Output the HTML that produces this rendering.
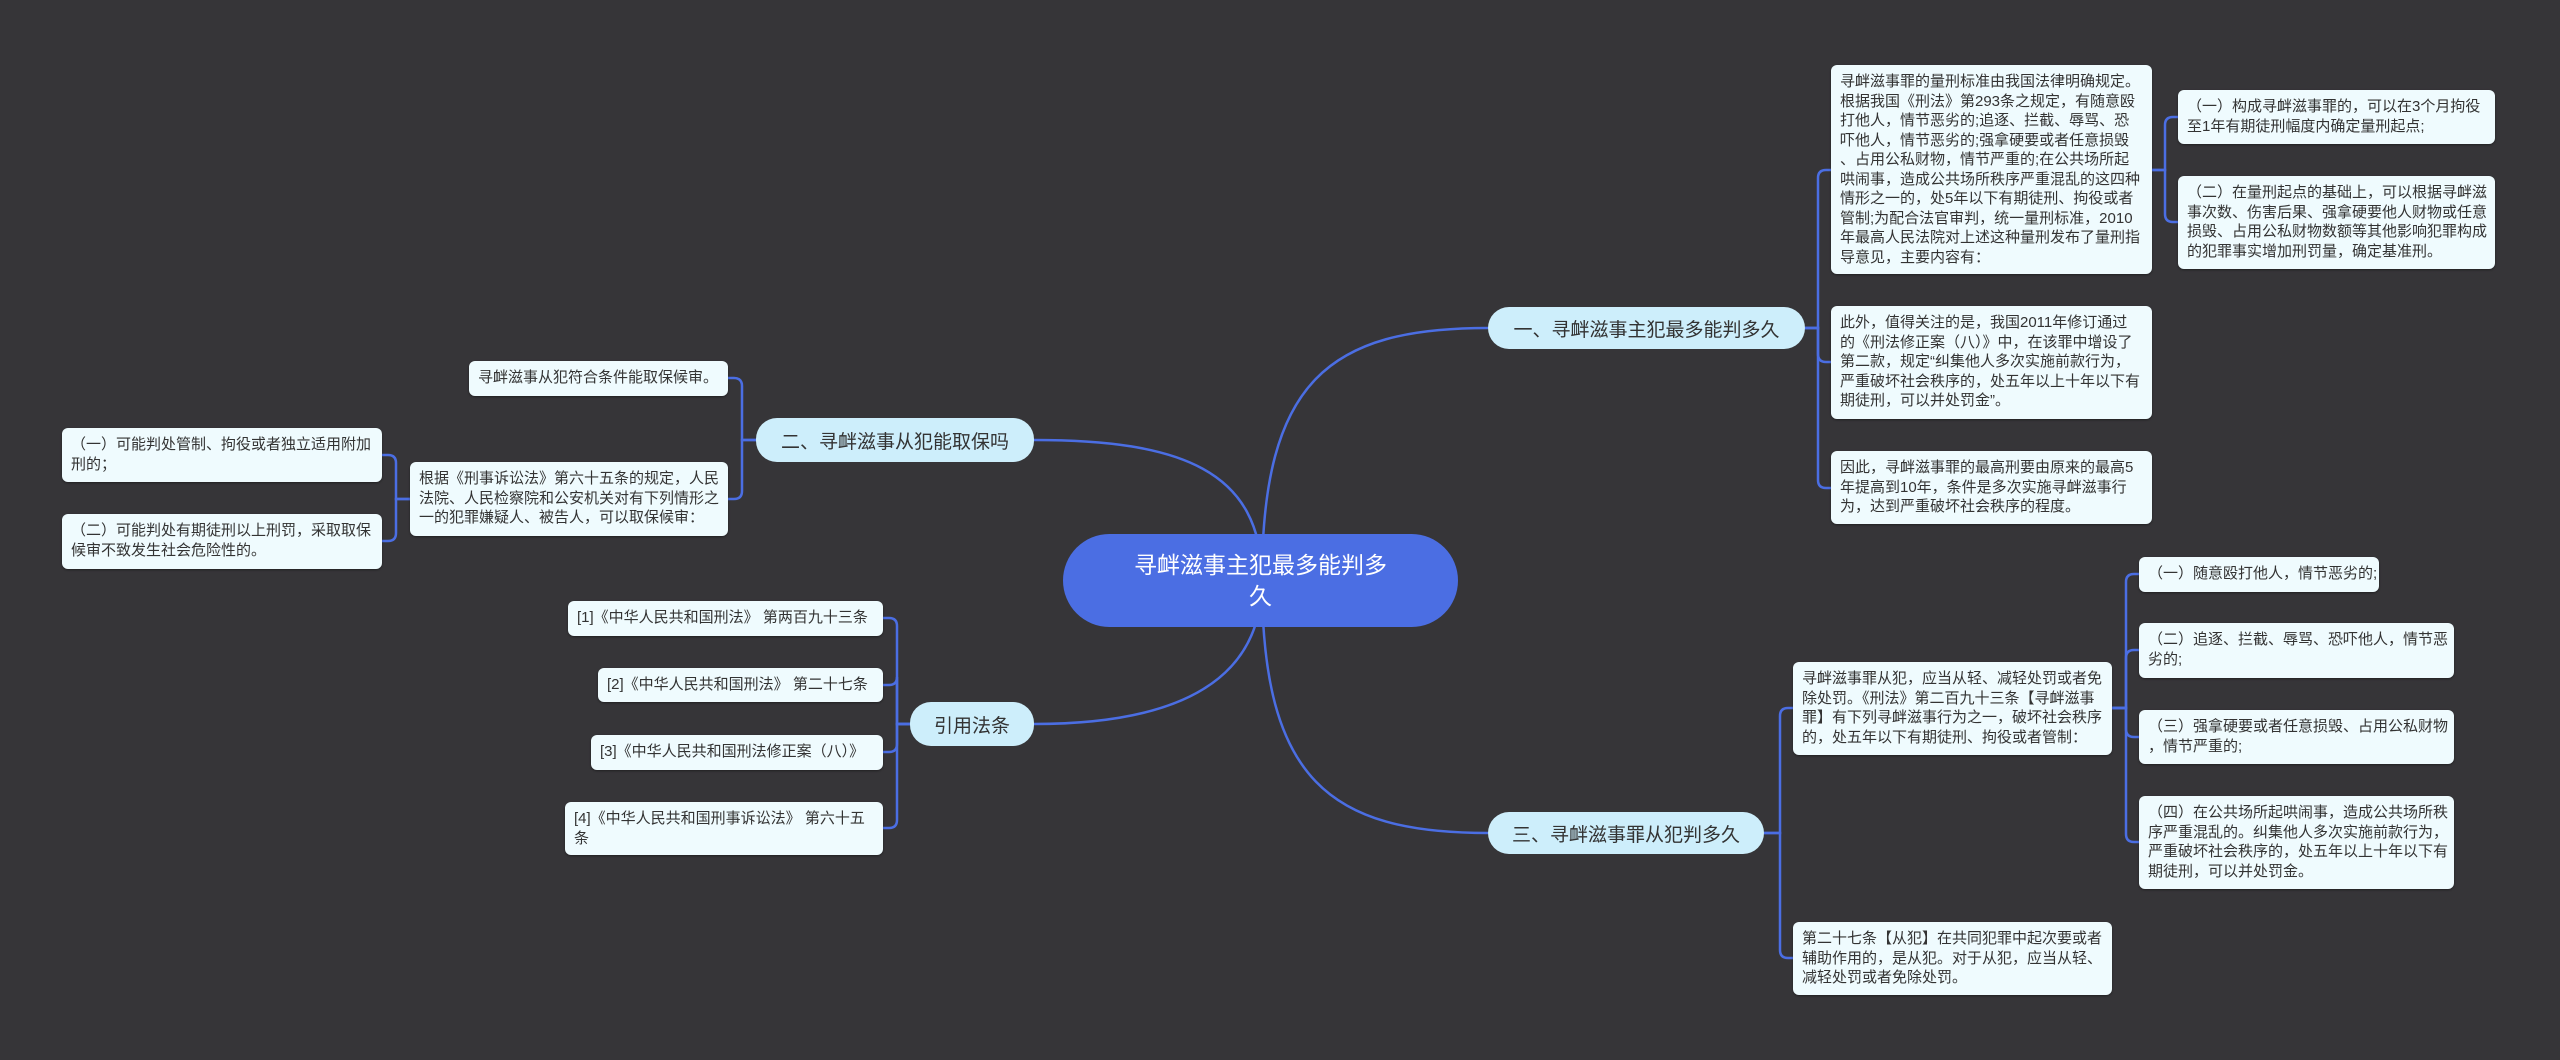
<!DOCTYPE html>
<html><head><meta charset="utf-8"><style>
html,body{margin:0;padding:0;width:2560px;height:1060px;overflow:hidden;background:#363538;}
.b{position:absolute;box-sizing:border-box;background:#effbfe;border-radius:6px;color:#333;font-family:"Liberation Sans","Noto Sans CJK SC",sans-serif;font-size:15px;line-height:19.5px;padding:7px 9px;white-space:nowrap;box-shadow:0 1px 2px rgba(0,0,0,.4);}
.br{position:absolute;box-sizing:border-box;background:#cdeefb;border-radius:21px;color:#333;font-family:"Liberation Sans","Noto Sans CJK SC",sans-serif;font-size:19px;display:flex;align-items:center;justify-content:center;white-space:nowrap;}
.c{position:absolute;box-sizing:border-box;background:#4b6ee3;border-radius:47px;color:#fff;font-family:"Liberation Sans","Noto Sans CJK SC",sans-serif;font-size:23px;line-height:31px;text-align:center;display:flex;align-items:center;justify-content:center;padding:0 30px;}
svg{position:absolute;left:0;top:0;}
</style></head><body>
<svg width="2560" height="1060" fill="none" stroke="#4b6ee3" stroke-width="2.5">
<path d="M1262 580 C1262 380 1330 328 1488 328"/>
<path d="M1262 580 C1262 780 1330 833 1488 833"/>
<path d="M1262 580 C1262 470 1180 440 1034 440"/>
<path d="M1262 580 C1262 680 1180 724 1034 724"/>
<path d="M1805 328H1818V178Q1818 170 1826 170H1831"/>
<path d="M1805 328H1818V354Q1818 362 1826 362H1831"/>
<path d="M1805 328H1818V480Q1818 488 1826 488H1831"/>
<path d="M2152 170H2165V125Q2165 117 2173 117H2178"/>
<path d="M2152 170H2165V214Q2165 222 2173 222H2178"/>
<path d="M1764 833H1780V716Q1780 708 1788 708H1793"/>
<path d="M1764 833H1780V950Q1780 958 1788 958H1793"/>
<path d="M2112 708H2126V582Q2126 574 2134 574H2139"/>
<path d="M2112 708H2126V658Q2126 650 2134 650H2139"/>
<path d="M2112 708H2126V729Q2126 737 2134 737H2139"/>
<path d="M2112 708H2126V834Q2126 842 2134 842H2139"/>
<path d="M756 440H742V386Q742 378 734 378H728"/>
<path d="M756 440H742V491Q742 499 734 499H728"/>
<path d="M410 499H396V463Q396 455 388 455H382"/>
<path d="M410 499H396V533Q396 541 388 541H382"/>
<path d="M910 724H897V626Q897 618 889 618H883"/>
<path d="M910 724H897V677Q897 685 889 685H883"/>
<path d="M910 724H897V744Q897 752 889 752H883"/>
<path d="M910 724H897V820Q897 828 889 828H883"/>
</svg>

<div class="c" style="left:1063px;top:534px;width:395px;height:93px;">寻衅滋事主犯最多能判多<br>久</div>

<div class="br" style="left:1488px;top:307px;width:317px;height:42px;">一、寻衅滋事主犯最多能判多久</div>
<div class="br" style="left:756px;top:418px;width:278px;height:44px;">二、寻衅滋事从犯能取保吗</div>
<div class="br" style="left:910px;top:702px;width:124px;height:44px;">引用法条</div>
<div class="br" style="left:1488px;top:812px;width:276px;height:42px;">三、寻衅滋事罪从犯判多久</div>

<div class="b" style="left:1831px;top:65px;width:321px;height:209px;">寻衅滋事罪的量刑标准由我国法律明确规定。<br>根据我国《刑法》第293条之规定，有随意殴<br>打他人，情节恶劣的;追逐、拦截、辱骂、恐<br>吓他人，情节恶劣的;强拿硬要或者任意损毁<br>、占用公私财物，情节严重的;在公共场所起<br>哄闹事，造成公共场所秩序严重混乱的这四种<br>情形之一的，处5年以下有期徒刑、拘役或者<br>管制;为配合法官审判，统一量刑标准，2010<br>年最高人民法院对上述这种量刑发布了量刑指<br>导意见，主要内容有：</div>
<div class="b" style="left:2178px;top:90px;width:317px;height:54px;">（一）构成寻衅滋事罪的，可以在3个月拘役<br>至1年有期徒刑幅度内确定量刑起点;</div>
<div class="b" style="left:2178px;top:176px;width:317px;height:93px;">（二）在量刑起点的基础上，可以根据寻衅滋<br>事次数、伤害后果、强拿硬要他人财物或任意<br>损毁、占用公私财物数额等其他影响犯罪构成<br>的犯罪事实增加刑罚量，确定基准刑。</div>
<div class="b" style="left:1831px;top:306px;width:321px;height:113px;">此外，值得关注的是，我国2011年修订通过<br>的《刑法修正案（八）》中，在该罪中增设了<br>第二款，规定“纠集他人多次实施前款行为，<br>严重破坏社会秩序的，处五年以上十年以下有<br>期徒刑，可以并处罚金”。</div>
<div class="b" style="left:1831px;top:451px;width:321px;height:73px;">因此，寻衅滋事罪的最高刑要由原来的最高5<br>年提高到10年，条件是多次实施寻衅滋事行<br>为，达到严重破坏社会秩序的程度。</div>

<div class="b" style="left:1793px;top:662px;width:319px;height:93px;">寻衅滋事罪从犯，应当从轻、减轻处罚或者免<br>除处罚。《刑法》第二百九十三条【寻衅滋事<br>罪】有下列寻衅滋事行为之一，破坏社会秩序<br>的，处五年以下有期徒刑、拘役或者管制：</div>
<div class="b" style="left:2139px;top:557px;width:240px;height:35px;">（一）随意殴打他人，情节恶劣的;</div>
<div class="b" style="left:2139px;top:623px;width:315px;height:55px;">（二）追逐、拦截、辱骂、恐吓他人，情节恶<br>劣的;</div>
<div class="b" style="left:2139px;top:710px;width:315px;height:54px;">（三）强拿硬要或者任意损毁、占用公私财物<br>，情节严重的;</div>
<div class="b" style="left:2139px;top:796px;width:315px;height:93px;">（四）在公共场所起哄闹事，造成公共场所秩<br>序严重混乱的。纠集他人多次实施前款行为，<br>严重破坏社会秩序的，处五年以上十年以下有<br>期徒刑，可以并处罚金。</div>
<div class="b" style="left:1793px;top:922px;width:319px;height:73px;">第二十七条【从犯】在共同犯罪中起次要或者<br>辅助作用的，是从犯。对于从犯，应当从轻、<br>减轻处罚或者免除处罚。</div>

<div class="b" style="left:469px;top:361px;width:259px;height:35px;">寻衅滋事从犯符合条件能取保候审。</div>
<div class="b" style="left:410px;top:462px;width:318px;height:74px;">根据《刑事诉讼法》第六十五条的规定，人民<br>法院、人民检察院和公安机关对有下列情形之<br>一的犯罪嫌疑人、被告人，可以取保候审：</div>
<div class="b" style="left:62px;top:428px;width:320px;height:54px;">（一）可能判处管制、拘役或者独立适用附加<br>刑的；</div>
<div class="b" style="left:62px;top:514px;width:320px;height:55px;">（二）可能判处有期徒刑以上刑罚，采取取保<br>候审不致发生社会危险性的。</div>

<div class="b" style="left:568px;top:601px;width:315px;height:35px;">[1]《中华人民共和国刑法》 第两百九十三条</div>
<div class="b" style="left:598px;top:668px;width:285px;height:34px;">[2]《中华人民共和国刑法》 第二十七条</div>
<div class="b" style="left:591px;top:735px;width:292px;height:35px;">[3]《中华人民共和国刑法修正案（八）》</div>
<div class="b" style="left:565px;top:802px;width:318px;height:53px;">[4]《中华人民共和国刑事诉讼法》 第六十五<br>条</div>
</body></html>
